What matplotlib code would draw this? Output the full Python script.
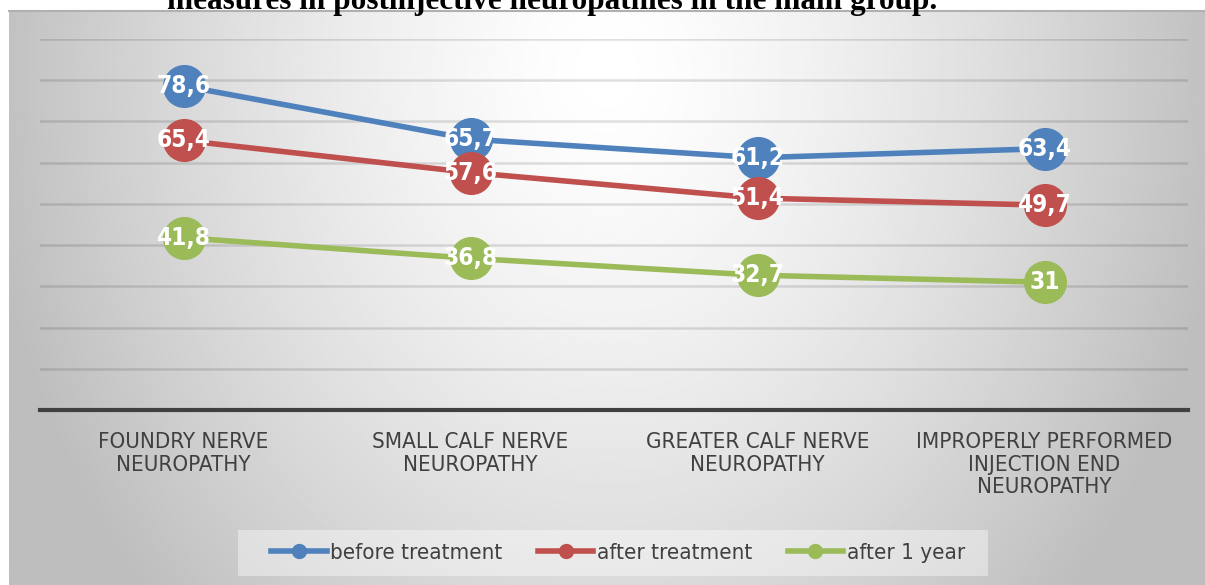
import numpy as np
import matplotlib
matplotlib.use("Agg")
import matplotlib.pyplot as plt
from matplotlib.lines import Line2D
from matplotlib.patches import Rectangle

categories = ["FOUNDRY NERVE\nNEUROPATHY", "SMALL CALF NERVE\nNEUROPATHY",
              "GREATER CALF NERVE\nNEUROPATHY", "IMPROPERLY PERFORMED\nINJECTION END\nNEUROPATHY"]
before = [78.6, 65.7, 61.2, 63.4]
after = [65.4, 57.6, 51.4, 49.7]
year1 = [41.8, 36.8, 32.7, 31.0]
series_names = ["before treatment", "after treatment", "after 1 year"]
colors = ["#4F81BD", "#C0504D", "#9BBB59"]
title = "measures in postinjective neuropathies in the main group."

W, H = 1205, 585
fig = plt.figure(figsize=(W/100, H/100), dpi=100)

narrow = dict(family="DejaVu Sans", stretch="condensed")

# background gradient
bg = fig.add_axes([9/W, 0, 1 - 9/W, (H - 11)/H])
yy, xx = np.mgrid[0:1:300j, 0:1:600j]
d = np.sqrt(((xx - 0.5) / 0.5) ** 2 + ((yy - 0.1) / 1.3) ** 2)
val = 1.0 - 0.24 * np.clip(d, 0, 1.05) ** 1.4
bg.imshow(val, cmap="gray", vmin=0, vmax=1, aspect="auto", extent=[0, 1, 1, 0], interpolation="bilinear")
bg.set_axis_off()
bg.plot([0, 1], [1, 1], color="#b0b0b0", lw=1.5, transform=bg.transAxes, clip_on=False)

# title (cut at top)
fig.text(552/W, 1 - 9/H, title, ha="center", va="baseline", fontsize=22.5,
         fontweight="bold", family=["Liberation Serif", "DejaVu Serif"], color="black")

ax = fig.add_axes([40/W, (H - 410)/H, (1188 - 40)/W, (410 - 39)/H])
ax.set_facecolor("none")
x = np.arange(len(categories))
ax.set_xlim(-0.5, len(categories) - 0.5)
ax.set_ylim(0, 90)
ax.set_yticks(np.arange(10, 91, 10))
ax.yaxis.grid(True, color="black", alpha=0.12, lw=1.8)
ax.set_axisbelow(True)
for s in ["top", "right", "left"]:
    ax.spines[s].set_visible(False)
ax.spines["bottom"].set_color("#404040")
ax.spines["bottom"].set_linewidth(3)
ax.tick_params(axis="y", length=0, labelleft=False)
ax.tick_params(axis="x", length=0, pad=16)
ax.set_xticks(x)
ax.set_xticklabels(categories, fontsize=16, color="#404040", linespacing=1.15, va="top", **narrow)

for vals, name, c in zip([before, after, year1], series_names, colors):
    ax.plot(x, vals, color=c, lw=4, marker="o", markersize=30, label=name,
            solid_capstyle="round", clip_on=False, zorder=3)
    for xi, v in zip(x, vals):
        lab = f"{v:g}".replace(".", ",")
        ax.text(xi, v, lab, ha="center", va="center", color="white", fontsize=17.5,
                fontweight="bold", zorder=4, **narrow)

# legend box
fig.patches.append(Rectangle((238/W, 1 - 576/H), (988 - 238)/W, 46/H, transform=fig.transFigure,
                             facecolor="white", alpha=0.4, edgecolor="none", zorder=1))
handles = [Line2D([0], [0], color=c, lw=4, marker="o", markersize=10) for c in colors]
leg = fig.legend(handles, series_names, loc="center", bbox_to_anchor=(618/W, 1 - 553/H),
                 ncol=3, frameon=False, handlelength=2.5, handletextpad=0.15,
                 columnspacing=1.6, prop=dict(size=16, **narrow))
for t in leg.get_texts():
    t.set_color("#404040")

fig.savefig("out.png", dpi=100)
